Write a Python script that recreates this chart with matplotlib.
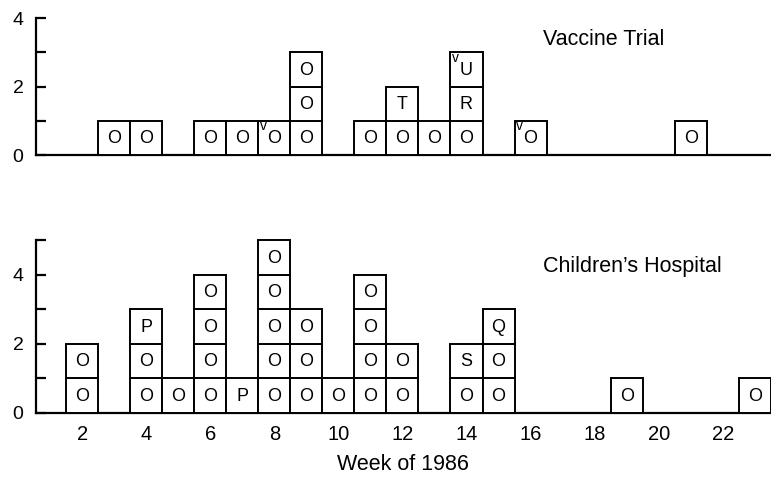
import matplotlib.pyplot as plt

plt.rcParams["font.family"] = ["Liberation Sans", "DejaVu Sans"]

# cases per week, bottom to top; a leading "v" marks the small superscript v
vaccine_weeks = [3, 4, 6, 7, 8, 9, 11, 12, 13, 14, 16, 21]
vaccine_cases = [
    ["O"], ["O"], ["O"], ["O"], ["vO"], ["O", "O", "O"],
    ["O"], ["O", "T"], ["O"], ["O", "R", "vU"], ["vO"], ["O"],
]

hospital_weeks = [2, 4, 5, 6, 7, 8, 9, 10, 11, 12, 14, 15, 19, 23]
hospital_cases = [
    ["O", "O"], ["O", "O", "P"], ["O"], ["O", "O", "O", "O"], ["P"],
    ["O", "O", "O", "O", "O"], ["O", "O", "O"], ["O"], ["O", "O", "O", "O"],
    ["O", "O"], ["O", "S"], ["O", "O", "Q"], ["O"], ["O"],
]

week_ticks = [2, 4, 6, 8, 10, 12, 14, 16, 18, 20, 22]


def draw_panel(ax, weeks, cases, ymax, title):
    for w, stack in zip(weeks, cases):
        for level, code in enumerate(stack):
            ax.bar(w, 1, bottom=level, width=1, facecolor="white",
                   edgecolor="black", linewidth=1.4, clip_on=False, zorder=3)
            letter = code.lstrip("v")
            ax.text(w, level + 0.47, letter, ha="center", va="center",
                    fontsize=13, zorder=4)
            if code.startswith("v"):
                ax.text(w - 0.34, level + 0.84, "v", ha="center", va="center",
                        fontsize=10, zorder=4)

    ax.set_xlim(0.56, 23.5)
    ax.set_ylim(0, ymax)
    for side in ["top", "right"]:
        ax.spines[side].set_visible(False)
    ax.spines["left"].set_linewidth(1.6)
    ax.spines["bottom"].set_linewidth(1.6)
    ax.set_yticks(range(ymax + 1),
                  labels=[str(v) if v % 2 == 0 else "" for v in range(ymax + 1)])
    ax.tick_params(axis="y", direction="in", length=7, width=1.6,
                   labelsize=14, pad=9)
    ax.text(0.69, 0.845, title, transform=ax.transAxes, fontsize=15.5,
            ha="left", va="center")


fig = plt.figure(figsize=(7.71, 4.79), dpi=100)
ax_top = fig.add_axes([0.0467, 0.6764, 0.953, 0.286])
ax_bot = fig.add_axes([0.0467, 0.1388, 0.953, 0.360])

draw_panel(ax_top, vaccine_weeks, vaccine_cases, 4, "Vaccine Trial")
ax_top.set_xticks([])

draw_panel(ax_bot, hospital_weeks, hospital_cases, 5, "Children\u2019s Hospital")
ax_bot.set_xticks(week_ticks)
ax_bot.tick_params(axis="x", length=0, labelsize=14.5, pad=9)
ax_bot.set_xlabel("Week of 1986", fontsize=15.5, labelpad=7)

fig.savefig("out.png", dpi=100)
